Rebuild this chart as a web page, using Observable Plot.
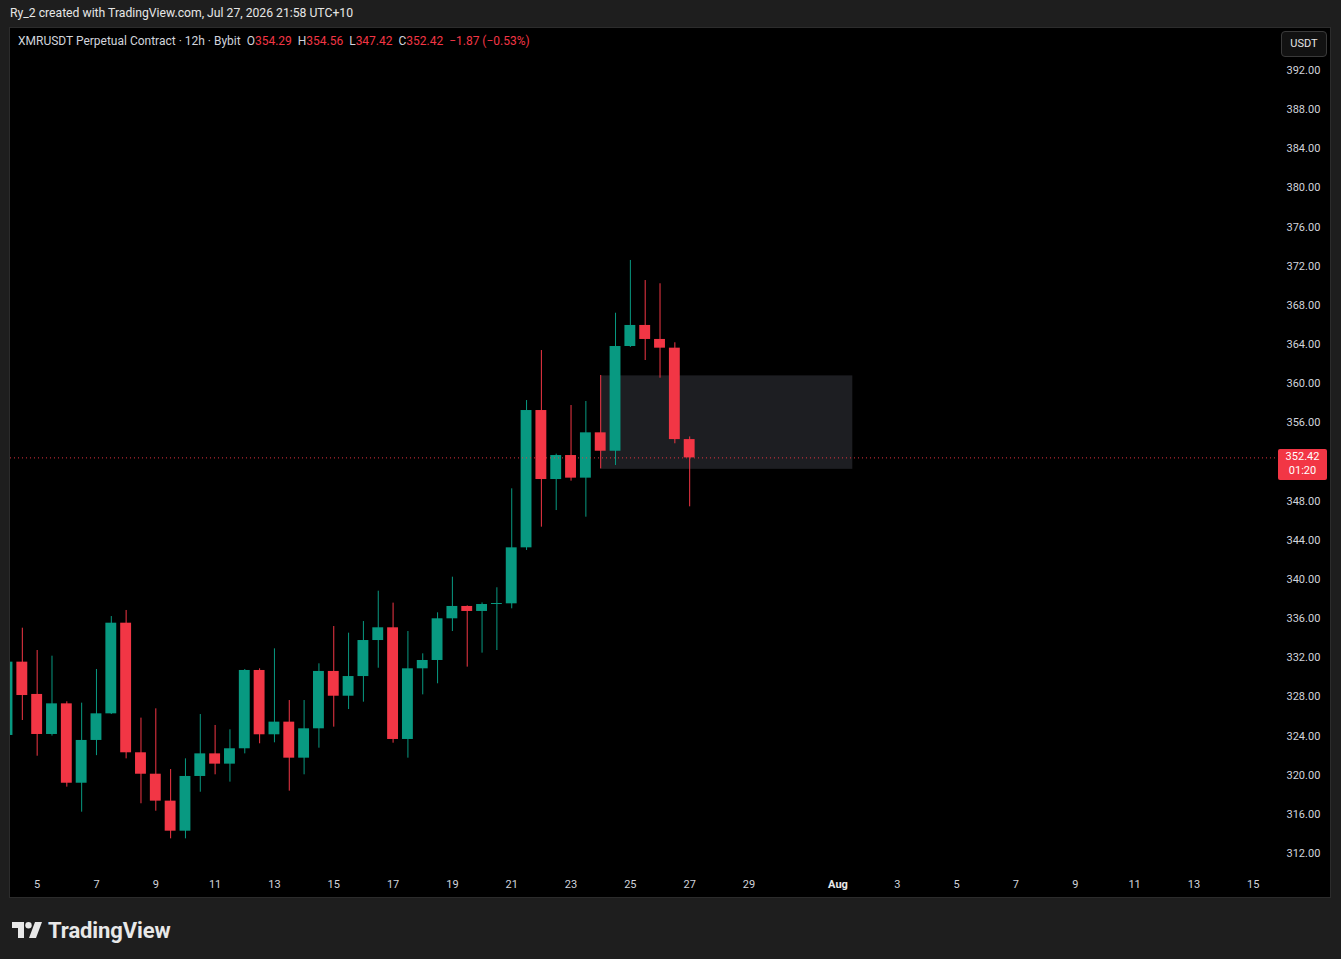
<!DOCTYPE html>
<html>
<head>
<meta charset="utf-8">
<script src="https://cdn.jsdelivr.net/npm/d3@7"></script>
<script src="https://cdn.jsdelivr.net/npm/@observablehq/plot@0.6"></script>
<style>
  html, body { margin: 0; padding: 0; background: #1e1e1e; }
  #root { position: relative; width: 1341px; height: 959px; background: #1e1e1e; overflow: hidden;
          font-family: Roboto, "Noto Sans", sans-serif; }
  #header { position: absolute; left: 10px; top: 6px; font-size: 12.2px; color: #e6e6e6; white-space: nowrap; }
  #pane { position: absolute; left: 9px; top: 27px; width: 1320px; height: 869px; border: 1px solid #2c2c2c; background: #000; overflow: hidden; }
  #chart { position: absolute; left: 0; top: 0; }
  #legend { position: absolute; left: 8px; top: 6px; font-size: 12px; color: #d1d4dc; white-space: nowrap; }
  #legend .v { color: #f23645; }
  #usdt { position: absolute; left: 1271px; top: 3px; width: 44px; height: 24px; border: 1px solid #3a3a3a; border-radius: 4px;
          background: #121212; color: #e6e6e6; font-size: 11px; line-height: 24px; text-align: center; }
  #lastbox { position: absolute; left: 1268px; width: 49px; height: 31px; background: #f23645; border-radius: 2px; }
  .lp { position: absolute; left: 1268px; width: 49px; height: 12px; line-height: 12px; font-size: 11px; color: #fff; text-align: center; }
  #brand { position: absolute; left: 12px; top: 918px; display: flex; align-items: center; color: #e8e8e8; }
  #brand span { font-size: 22px; font-weight: 700; letter-spacing: -0.1px; margin-left: 6px; }
</style>
</head>
<body>
<div id="root">
  <div id="header">Ry_2 created with TradingView.com, Jul 27, 2026 21:58 UTC+10</div>
  <div id="pane">
    <div id="chart"></div>
    <div id="legend"></div>
    <div id="usdt">USDT</div>
    <div id="lastbox"></div>
    <div id="lp1" class="lp"></div>
    <div id="lp2" class="lp"></div>
  </div>
  <div id="brand">
    <svg width="30" height="18" viewBox="0 0 30 18">
      <path d="M0 0 H12 V16 H6 V6 H0 Z" fill="#e8e8e8"/>
      <circle cx="16.5" cy="3.2" r="3.2" fill="#e8e8e8"/>
      <path d="M23 0 H30 L24 16 H17 Z" fill="#e8e8e8"/>
    </svg>
    <span>TradingView</span>
  </div>
</div>
<script>
// ---- data (12h candles, XMRUSDT Perpetual, Bybit) ----
const startUTC = Date.UTC(2026, 6, 4, 0, 0); // first candle: Jul 4, 00:00
const opens  = [324.06,331.55,328.25,324.16,327.29,319.18,323.55,326.27,335.53,322.29,320.10,317.35,314.28,319.87,322.18,321.13,322.70,330.70,324.13,325.42,321.74,324.74,330.60,328.07,330.08,333.76,335.06,323.65,330.87,331.72,335.98,337.24,336.73,337.44,337.51,343.23,357.26,350.21,352.66,350.35,354.98,353.10,363.80,365.95,364.52,363.63,354.29];
const highs  = [332.00,335.02,332.74,332.16,327.50,327.36,330.80,336.21,336.83,325.83,326.78,320.58,321.67,326.20,325.08,324.64,330.80,330.87,332.91,327.63,327.63,331.38,335.19,334.51,335.70,338.80,337.58,334.68,332.40,336.59,340.23,337.30,337.60,339.15,349.26,358.28,363.39,352.80,357.77,358.18,360.84,367.20,372.59,370.54,370.21,364.18,354.56];
const lows   = [323.80,325.59,321.94,324.00,318.78,316.22,322.00,326.20,321.67,317.08,316.32,313.50,313.50,318.26,320.04,319.29,322.18,323.21,323.31,318.37,320.04,322.76,324.91,326.71,327.46,330.93,323.27,321.74,328.21,329.34,334.68,331.04,332.47,332.74,337.00,342.96,345.34,347.04,350.04,346.36,351.30,351.64,363.70,362.37,360.56,353.86,347.42];
const closes = [331.55,328.14,324.16,327.29,319.18,323.55,326.27,335.53,322.29,320.10,317.35,314.28,319.87,322.18,321.13,322.70,330.70,324.13,325.42,321.74,324.74,330.60,328.07,330.08,333.76,335.06,323.65,330.87,331.72,335.98,337.24,336.73,337.44,337.51,343.23,357.26,350.21,352.66,350.35,354.98,353.10,363.80,365.95,364.52,363.63,354.29,352.42];

// supply/demand zone drawn on chart (start candle index, end candle index, top, bottom)
const zoneStartIdx = 40, zoneEndIdx = 57;
const zoneTop = 360.80, zoneBottom = 351.25;

const lastPrice = 352.42;
const countdown = "01:20";
const legendText = "XMRUSDT Perpetual Contract · 12h · Bybit";

// axis ticks (352.00 is hidden behind the last-price label, as on the original)
const priceTicks = [312,316,320,324,328,332,336,340,344,348,356,360,364,368,372,376,380,384,388,392];
const dayTickDates = ["2026-07-05","2026-07-07","2026-07-09","2026-07-11","2026-07-13","2026-07-15","2026-07-17","2026-07-19","2026-07-21","2026-07-23","2026-07-25","2026-07-27","2026-07-29","2026-08-03","2026-08-05","2026-08-07","2026-08-09","2026-08-11","2026-08-13","2026-08-15"];
const monthTickDates = ["2026-08-01"];
const monthTickLabels = ["Aug"];

// ---- build ----
const H12 = 12 * 3600e3;
const candles = opens.map((o, i) => ({
  date: new Date(startUTC + i * H12),
  open: o, high: highs[i], low: lows[i], close: closes[i],
  up: closes[i] >= o
}));
const last = candles[candles.length - 1];
const prevClose = candles[candles.length - 2].close;
const chg = last.close - prevClose;

const GREEN = "#089981", RED = "#f23645";
const color = d => d.up ? GREEN : RED;
const half = 4.4 * 3600e3;
const zone = [{
  x1: new Date(startUTC + zoneStartIdx * H12),
  x2: new Date(startUTC + zoneEndIdx * H12),
  y1: zoneBottom, y2: zoneTop
}];

const chart = Plot.plot({
  width: 1320, height: 869,
  marginLeft: 0, marginRight: 52, marginTop: 0, marginBottom: 27,
  style: { background: "#000", color: "#d1d4dc", fontFamily: "Roboto, 'Noto Sans', sans-serif", fontSize: "11px" },
  x: { type: "utc", domain: [new Date(startUTC), new Date(Date.UTC(2026, 7, 1))], range: [-3, -3 + 56 * 14.83] },
  y: { domain: [312, 392], range: [825, 42] },
  marks: [
    Plot.rect(zone, { x1: "x1", x2: "x2", y1: "y1", y2: "y2", fill: "#1d1e22", clip: "frame" }),
    Plot.ruleX(candles, { x: "date", y1: "low", y2: "high", stroke: color, strokeWidth: 1, clip: "frame" }),
    Plot.rect(candles, {
      x1: d => new Date(+d.date - half), x2: d => new Date(+d.date + half),
      y1: d => Math.min(d.open, d.close),
      y2: d => Math.max(Math.max(d.open, d.close), Math.min(d.open, d.close) + 0.1),
      fill: color, clip: "frame"
    }),
    Plot.ruleY([lastPrice], { stroke: RED, strokeWidth: 1, strokeDasharray: "1,3", strokeOpacity: 0.9 }),
    Plot.axisY({ ticks: priceTicks, anchor: "right", tickSize: 0, tickPadding: 8, tickFormat: d => d.toFixed(2), label: null, fill: "#d1d4dc" }),
    Plot.axisX({ ticks: dayTickDates.map(s => new Date(s + "T00:00:00Z")), anchor: "bottom", tickSize: 0, tickPadding: 10,
                 tickFormat: d => String(d.getUTCDate()), label: null, fill: "#d1d4dc" }),
    Plot.axisX({ ticks: monthTickDates.map(s => new Date(s + "T00:00:00Z")), anchor: "bottom", tickSize: 0, tickPadding: 10,
                 tickFormat: (d, i) => monthTickLabels[i], label: null, fill: "#e8e8e8", fontWeight: "bold" })
  ]
});
document.getElementById("chart").appendChild(chart);

// legend
const fmt = v => v.toFixed(2);
const sign = v => (v < 0 ? "\u2212" : "+") + Math.abs(v).toFixed(2);
document.getElementById("legend").innerHTML =
  `${legendText}&nbsp;&nbsp;O<span class="v">${fmt(last.open)}</span>&nbsp;&nbsp;H<span class="v">${fmt(last.high)}</span>&nbsp;&nbsp;L<span class="v">${fmt(last.low)}</span>&nbsp;&nbsp;C<span class="v">${fmt(last.close)}</span>&nbsp;&nbsp;<span class="v">${sign(chg)} (${sign(chg / prevClose * 100)}%)</span>`;

// last price label on the price scale
const yLast = chart.scale("y").apply(lastPrice);
document.getElementById("lastbox").style.top = (yLast - 8) + "px";
const lp1 = document.getElementById("lp1"), lp2 = document.getElementById("lp2");
lp1.style.top = (yLast - 6) + "px";
lp2.style.top = (yLast + 8) + "px";
lp1.textContent = fmt(lastPrice);
lp2.textContent = countdown;
</script>
</body>
</html>
